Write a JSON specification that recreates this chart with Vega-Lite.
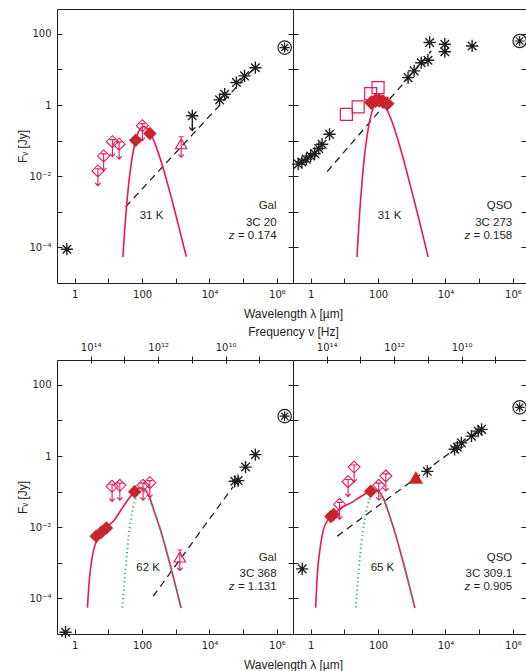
{
"$schema":"https://vega.github.io/schema/vega-lite/v6.json",
"padding":{"left":15,"top":8,"right":0,"bottom":0},
"background":"white",
"config":{
 "view":{"stroke":"#231f20","strokeWidth":1},
 "font":"Liberation Sans",
 "axis":{"grid":false,"domain":false,"labelFont":"DejaVu Sans","labelFontSize":10,"labelColor":"#231f20","titleFont":"Liberation Sans","titleFontSize":12,"titleFontWeight":"normal","titleColor":"#231f20","tickColor":"#231f20","tickWidth":1},
 "text":{"font":"Liberation Sans","fontSize":11.5,"color":"#231f20"}
},
"datasets":{
 "dummy":[{"F":1,"nu":10000000000}],
 "pts":[
  {"p":1,"k":"ast","lam":19950,"F":1.40},{"p":1,"k":"ast","lam":28180,"F":2.02},{"p":1,"k":"ast","lam":63100,"F":4.29},{"p":1,"k":"ast","lam":109600,"F":6.61},{"p":1,"k":"ast","lam":229100,"F":11.2},{"p":1,"k":"ast","lam":0.589,"F":0.0000891},
  {"p":1,"k":"astul","lam":3090,"F":0.501},
  {"p":1,"k":"ocirc","lam":1698000,"F":41.2},
  {"p":1,"k":"dul","lam":4.90,"F":0.0141},{"p":1,"k":"dul","lam":7.24,"F":0.0372},{"p":1,"k":"dul","lam":13.2,"F":0.0933},{"p":1,"k":"dul","lam":20.9,"F":0.0794},{"p":1,"k":"dul","lam":102,"F":0.263},
  {"p":1,"k":"dfill","lam":64.6,"F":0.102},{"p":1,"k":"dfill","lam":170,"F":0.158},
  {"p":1,"k":"tul","lam":1445,"F":0.0776},
  {"p":2,"k":"ast","lam":0.427,"F":0.0219},{"p":2,"k":"ast","lam":0.550,"F":0.0251},{"p":2,"k":"ast","lam":0.741,"F":0.0302},{"p":2,"k":"ast","lam":1.0,"F":0.0372},{"p":2,"k":"ast","lam":1.318,"F":0.0437},{"p":2,"k":"ast","lam":1.738,"F":0.0603},{"p":2,"k":"ast","lam":2.188,"F":0.0794},{"p":2,"k":"ast","lam":3.631,"F":0.151},
  {"p":2,"k":"ast","lam":776,"F":5.89},{"p":2,"k":"ast","lam":1175,"F":9.12},{"p":2,"k":"ast","lam":1905,"F":15.5},{"p":2,"k":"ast","lam":3020,"F":18.2},{"p":2,"k":"ast","lam":3388,"F":57.5},{"p":2,"k":"ast","lam":9550,"F":51.3},{"p":2,"k":"ast","lam":9550,"F":31.6},{"p":2,"k":"ast","lam":61660,"F":45.7},
  {"p":2,"k":"ocirc","lam":1585000,"F":63.1},
  {"p":2,"k":"sq","lam":11.5,"F":0.550},{"p":2,"k":"sq","lam":25.7,"F":0.891},{"p":2,"k":"sq","lam":60.3,"F":2.09},{"p":2,"k":"sq","lam":100,"F":3.09},
  {"p":2,"k":"dfill","lam":63.1,"F":1.175},{"p":2,"k":"dfill","lam":83.2,"F":1.318},{"p":2,"k":"dfill","lam":107,"F":1.349},{"p":2,"k":"dfill","lam":141,"F":1.259},{"p":2,"k":"dfill","lam":186,"F":1.096},
  {"p":3,"k":"ast","lam":56230,"F":0.195},{"p":3,"k":"ast","lam":70790,"F":0.204},{"p":3,"k":"ast","lam":117500,"F":0.490},{"p":3,"k":"ast","lam":229100,"F":1.096},{"p":3,"k":"ast","lam":0.537,"F":0.0000112},
  {"p":3,"k":"ocirc","lam":1698000,"F":13.2},
  {"p":3,"k":"dul","lam":12.9,"F":0.141},{"p":3,"k":"dul","lam":21.9,"F":0.151},{"p":3,"k":"dul","lam":107,"F":0.151},{"p":3,"k":"dul","lam":170,"F":0.178},
  {"p":3,"k":"dfill","lam":4.37,"F":0.00562},{"p":3,"k":"dfill","lam":6.17,"F":0.00724},{"p":3,"k":"dfill","lam":8.71,"F":0.00955},{"p":3,"k":"dfill","lam":60.3,"F":0.100},
  {"p":3,"k":"tul","lam":1318,"F":0.00138},
  {"p":4,"k":"ast","lam":2884,"F":0.372},{"p":4,"k":"ast","lam":18620,"F":1.549},{"p":4,"k":"ast","lam":22390,"F":1.778},{"p":4,"k":"ast","lam":29510,"F":2.344},{"p":4,"k":"ast","lam":58880,"F":3.631},{"p":4,"k":"ast","lam":93330,"F":5.012},{"p":4,"k":"ast","lam":117500,"F":5.623},{"p":4,"k":"ast","lam":0.562,"F":0.000676},
  {"p":4,"k":"ocirc","lam":1585000,"F":23.4},
  {"p":4,"k":"dul","lam":19.5,"F":0.490},{"p":4,"k":"dul","lam":12.9,"F":0.191},{"p":4,"k":"dul","lam":7.24,"F":0.0437},{"p":4,"k":"dul","lam":170,"F":0.275},{"p":4,"k":"dul","lam":105,"F":0.151},
  {"p":4,"k":"dfill","lam":3.98,"F":0.0200},{"p":4,"k":"dfill","lam":4.79,"F":0.0229},{"p":4,"k":"dfill","lam":60.3,"F":0.102},
  {"p":4,"k":"tri","lam":1318,"F":0.251}
 ],
 "dash":[
  {"p":1,"lam":32.4,"F":0.00138},{"p":1,"lam":229100,"F":12.0},
  {"p":2,"lam":3.09,"F":0.0135},{"p":2,"lam":3802,"F":33.1},
  {"p":3,"lam":214,"F":0.000115},{"p":3,"lam":50120,"F":0.138},
  {"p":4,"lam":6.17,"F":0.00562},{"p":4,"lam":117500,"F":5.62}
 ],
 "curves":[
  {"p":1,"c":"tot","lam":27,"F":0.0000537},{"p":1,"c":"tot","lam":30,"F":0.000245},{"p":1,"c":"tot","lam":33,"F":0.000813},{"p":1,"c":"tot","lam":35,"F":0.00158},{"p":1,"c":"tot","lam":40,"F":0.00589},{"p":1,"c":"tot","lam":45,"F":0.0151},{"p":1,"c":"tot","lam":50,"F":0.0302},{"p":1,"c":"tot","lam":60,"F":0.0776},{"p":1,"c":"tot","lam":70,"F":0.135},{"p":1,"c":"tot","lam":80,"F":0.186},{"p":1,"c":"tot","lam":100,"F":0.240},{"p":1,"c":"tot","lam":115,"F":0.251},{"p":1,"c":"tot","lam":130,"F":0.234},{"p":1,"c":"tot","lam":170,"F":0.174},{"p":1,"c":"tot","lam":250,"F":0.0759},{"p":1,"c":"tot","lam":400,"F":0.0200},{"p":1,"c":"tot","lam":700,"F":0.00302},{"p":1,"c":"tot","lam":1200,"F":0.000417},{"p":1,"c":"tot","lam":2000,"F":0.0000603},{"p":1,"c":"tot","lam":2050,"F":0.0000550},
  {"p":2,"c":"tot","lam":23.7,"F":0.0000537},{"p":2,"c":"tot","lam":25,"F":0.000132},{"p":2,"c":"tot","lam":27,"F":0.000447},{"p":2,"c":"tot","lam":30,"F":0.00191},{"p":2,"c":"tot","lam":35,"F":0.0115},{"p":2,"c":"tot","lam":40,"F":0.0398},{"p":2,"c":"tot","lam":45,"F":0.0977},{"p":2,"c":"tot","lam":50,"F":0.191},{"p":2,"c":"tot","lam":60,"F":0.457},{"p":2,"c":"tot","lam":70,"F":0.759},{"p":2,"c":"tot","lam":80,"F":1.023},{"p":2,"c":"tot","lam":100,"F":1.288},{"p":2,"c":"tot","lam":130,"F":1.202},{"p":2,"c":"tot","lam":170,"F":0.851},{"p":2,"c":"tot","lam":250,"F":0.372},{"p":2,"c":"tot","lam":400,"F":0.0955},{"p":2,"c":"tot","lam":700,"F":0.0141},{"p":2,"c":"tot","lam":1200,"F":0.00195},{"p":2,"c":"tot","lam":2000,"F":0.000282},{"p":2,"c":"tot","lam":3050,"F":0.0000537},
  {"p":3,"c":"bb","lam":26,"F":0.0000550},{"p":3,"c":"bb","lam":30,"F":0.000282},{"p":3,"c":"bb","lam":34,"F":0.00112},{"p":3,"c":"bb","lam":40,"F":0.00562},{"p":3,"c":"bb","lam":47,"F":0.0178},{"p":3,"c":"bb","lam":55,"F":0.0380},{"p":3,"c":"bb","lam":65,"F":0.0661},{"p":3,"c":"bb","lam":80,"F":0.0891},{"p":3,"c":"bb","lam":100,"F":0.100},{"p":3,"c":"bb","lam":120,"F":0.0933},{"p":3,"c":"bb","lam":150,"F":0.0692},{"p":3,"c":"bb","lam":220,"F":0.0316},{"p":3,"c":"bb","lam":350,"F":0.00851},{"p":3,"c":"bb","lam":600,"F":0.00138},{"p":3,"c":"bb","lam":1000,"F":0.000214},{"p":3,"c":"bb","lam":1440,"F":0.0000537},
  {"p":3,"c":"tot","lam":2.40,"F":0.0000550},{"p":3,"c":"tot","lam":2.61,"F":0.000200},{"p":3,"c":"tot","lam":2.99,"F":0.000724},{"p":3,"c":"tot","lam":3.51,"F":0.00191},{"p":3,"c":"tot","lam":4.41,"F":0.00407},{"p":3,"c":"tot","lam":6.19,"F":0.00692},{"p":3,"c":"tot","lam":15.4,"F":0.0166},{"p":3,"c":"tot","lam":30.5,"F":0.0437},{"p":3,"c":"tot","lam":60.3,"F":0.100},{"p":3,"c":"tot","lam":85,"F":0.129},{"p":3,"c":"tot","lam":110,"F":0.123},{"p":3,"c":"tot","lam":135,"F":0.102},{"p":3,"c":"tot","lam":170,"F":0.0661},{"p":3,"c":"tot","lam":220,"F":0.0316},{"p":3,"c":"tot","lam":350,"F":0.00851},{"p":3,"c":"tot","lam":600,"F":0.00138},{"p":3,"c":"tot","lam":1000,"F":0.000214},{"p":3,"c":"tot","lam":1440,"F":0.0000537},
  {"p":4,"c":"bb","lam":21.9,"F":0.0000550},{"p":4,"c":"bb","lam":24,"F":0.000182},{"p":4,"c":"bb","lam":27,"F":0.000708},{"p":4,"c":"bb","lam":32,"F":0.00347},{"p":4,"c":"bb","lam":40,"F":0.0158},{"p":4,"c":"bb","lam":50,"F":0.0437},{"p":4,"c":"bb","lam":65,"F":0.0813},{"p":4,"c":"bb","lam":85,"F":0.100},{"p":4,"c":"bb","lam":110,"F":0.0851},{"p":4,"c":"bb","lam":150,"F":0.0525},{"p":4,"c":"bb","lam":220,"F":0.0209},{"p":4,"c":"bb","lam":350,"F":0.00513},{"p":4,"c":"bb","lam":600,"F":0.000794},{"p":4,"c":"bb","lam":1000,"F":0.000120},{"p":4,"c":"bb","lam":1230,"F":0.0000537},
  {"p":4,"c":"tot","lam":1.41,"F":0.0000550},{"p":4,"c":"tot","lam":1.58,"F":0.000468},{"p":4,"c":"tot","lam":1.86,"F":0.00214},{"p":4,"c":"tot","lam":2.34,"F":0.00776},{"p":4,"c":"tot","lam":3.31,"F":0.0166},{"p":4,"c":"tot","lam":4.57,"F":0.0219},{"p":4,"c":"tot","lam":8.13,"F":0.0355},{"p":4,"c":"tot","lam":16.2,"F":0.0490},{"p":4,"c":"tot","lam":31.6,"F":0.0741},{"p":4,"c":"tot","lam":60.3,"F":0.102},{"p":4,"c":"tot","lam":89,"F":0.107},{"p":4,"c":"tot","lam":115,"F":0.0933},{"p":4,"c":"tot","lam":141,"F":0.0676},{"p":4,"c":"tot","lam":220,"F":0.0209},{"p":4,"c":"tot","lam":350,"F":0.00513},{"p":4,"c":"tot","lam":600,"F":0.000794},{"p":4,"c":"tot","lam":1000,"F":0.000120},{"p":4,"c":"tot","lam":1230,"F":0.0000537}
 ],
 "txt":[
  {"p":1,"k":"c","t":"31 K","lam":190.5,"F":0.000776},{"p":1,"k":"r","t":"Gal","lam":977000,"F":0.00148},{"p":1,"k":"r","t":"3C 20","lam":977000,"F":0.000490},{"p":1,"k":"r","t":"= 0.174","lam":977000,"F":0.000214},{"p":1,"k":"z","t":"z","lam":977000,"F":0.000214},
  {"p":2,"k":"c","t":"31 K","lam":218.8,"F":0.000776},{"p":2,"k":"r","t":"QSO","lam":955000,"F":0.00148},{"p":2,"k":"r","t":"3C 273","lam":955000,"F":0.000479},{"p":2,"k":"r","t":"= 0.158","lam":955000,"F":0.000209},{"p":2,"k":"z","t":"z","lam":955000,"F":0.000209},
  {"p":3,"k":"c","t":"62 K","lam":151,"F":0.000724},{"p":3,"k":"r","t":"Gal","lam":977000,"F":0.00138},{"p":3,"k":"r","t":"3C 368","lam":977000,"F":0.000490},{"p":3,"k":"r","t":"= 1.131","lam":977000,"F":0.000214},{"p":3,"k":"z","t":"z","lam":977000,"F":0.000214},
  {"p":4,"k":"c","t":"65 K","lam":135,"F":0.000724},{"p":4,"k":"r","t":"QSO","lam":955000,"F":0.00138},{"p":4,"k":"r","t":"3C 309.1","lam":955000,"F":0.000490},{"p":4,"k":"r","t":"= 0.905","lam":955000,"F":0.000214},{"p":4,"k":"z","t":"z","lam":955000,"F":0.000214}
 ]
},
"columns":2,
"spacing":{"row":77,"column":0},
"bounds":"flush",
"resolve":{"scale":{"x":"independent","y":"independent"}},
"concat":[
 {
  "width":236,"height":274,
  "encoding":{
   "x":{"field":"lam","type":"quantitative","scale":{"type":"log","domain":[0.2998,2998000],"nice":false},
        "axis":{"orient":"bottom","values":[1,10,100,1000,10000,100000,1000000],"offset":-5,"tickSize":5,"labelPadding":6,"labelOverlap":false,"labelFlush":false,"labelExpr":"round(log(datum.value)/LN10)==0?'1':round(log(datum.value)/LN10)==2?'100':round(log(datum.value)/LN10)==4?'10⁴':round(log(datum.value)/LN10)==6?'10⁶':''","title":"Wavelength λ [µm]","titleX":236,"titleY":35,"titleAlign":"center","titleBaseline":"middle","titleAngle":0}},
   "y":{"field":"F","type":"quantitative","scale":{"type":"log","domain":[0.00001,500],"nice":false},
        "axis":{"orient":"left","values":[0.0001,0.001,0.01,0.1,1,10,100],"offset":-5,"tickSize":5,"labelPadding":6,"labelOverlap":false,"labelFlush":false,"labelExpr":"round(log(datum.value)/LN10)==2?'100':round(log(datum.value)/LN10)==0?'1':round(log(datum.value)/LN10)==-2?'10⁻²':round(log(datum.value)/LN10)==-4?'10⁻⁴':''","title":"Fᵥ [Jy]","titleX":-40,"titleY":137,"titleAngle":-90,"titleAlign":"center","titleBaseline":"middle"}}
  },
  "layer":[
   {"data":{"name":"dash"},"transform":[{"filter":"datum.p==1"}],"mark":{"type":"line","stroke":"#231f20","strokeWidth":1.3,"strokeDash":[7,5]}},
   {"data":{"name":"curves"},"transform":[{"filter":"datum.p==1&&datum.c=='tot'"}],"mark":{"type":"line","interpolate":"monotone","stroke":"#e5185c","strokeWidth":1.6}},
   {"data":{"name":"pts"},"transform":[{"filter":"datum.p==1&&datum.k=='dul'"}],"mark":{"type":"point","shape":"M0,-1L1,0L0,1L-1,0ZM-0.45,-0.35L0.45,-0.35M0,-0.35L0,2.5M-0.45,2L0,2.5L0.45,2","size":144,"filled":false,"stroke":"#e5185c","strokeWidth":1.1,"opacity":1}},
   {"data":{"name":"pts"},"transform":[{"filter":"datum.p==1&&datum.k=='tul'"}],"mark":{"type":"point","shape":"M0,-0.95L0.95,0.7L-0.95,0.7ZM-0.4,-1.3L0.4,-1.3M0,-1.3L0,2.1M-0.45,1.65L0,2.1L0.45,1.65","size":144,"filled":false,"stroke":"#e5185c","strokeWidth":1.1,"opacity":1}},
   {"data":{"name":"pts"},"transform":[{"filter":"datum.p==1&&datum.k=='dfill'"}],"mark":{"type":"point","shape":"diamond","size":170,"filled":true,"fill":"#c8242d","stroke":"#c8242d","strokeWidth":0.5,"opacity":1}},
   {"data":{"name":"pts"},"transform":[{"filter":"datum.p==1&&datum.k=='ast'"}],"mark":{"type":"point","shape":"M-1,0L1,0M0,-1L0,1M-0.7,-0.7L0.7,0.7M-0.7,0.7L0.7,-0.7","size":150,"filled":false,"stroke":"#231f20","strokeWidth":1.4,"opacity":1}},
   {"data":{"name":"pts"},"transform":[{"filter":"datum.p==1&&datum.k=='astul'"}],"mark":{"type":"point","shape":"M-1,0L1,0M0,-1L0,1M-0.7,-0.7L0.7,0.7M-0.7,0.7L0.7,-0.7M0,0L0,2.4M-0.5,1.9L0,2.4L0.5,1.9","size":150,"filled":false,"stroke":"#231f20","strokeWidth":1.4,"opacity":1}},
   {"data":{"name":"pts"},"transform":[{"filter":"datum.p==1&&datum.k=='ocirc'"}],"mark":{"type":"point","shape":"M1,0A1,1,0,1,1,-1,0A1,1,0,1,1,1,0ZM-0.75,0L0.75,0M0,-0.75L0,0.75M-0.53,-0.53L0.53,0.53M-0.53,0.53L0.53,-0.53","size":180,"filled":false,"stroke":"#231f20","strokeWidth":1.2,"opacity":1}},
   {"data":{"name":"txt"},"transform":[{"filter":"datum.p==1&&datum.k=='c'"}],"mark":{"type":"text","align":"center","baseline":"middle","fontSize":11.5,"color":"#231f20"},"encoding":{"text":{"field":"t"}}},
   {"data":{"name":"txt"},"transform":[{"filter":"datum.p==1&&datum.k=='r'"}],"mark":{"type":"text","align":"right","baseline":"middle","fontSize":11.5,"color":"#231f20"},"encoding":{"text":{"field":"t"}}},
   {"data":{"name":"txt"},"transform":[{"filter":"datum.p==1&&datum.k=='z'"}],"mark":{"type":"text","align":"right","baseline":"middle","fontSize":11.5,"fontStyle":"italic","dx":-42,"color":"#231f20"},"encoding":{"text":{"field":"t"}}}
  ]
 },
 {
  "width":233,"height":274,
  "resolve":{"scale":{"y":"independent"}},
  "layer":[
   {
    "encoding":{
     "x":{"field":"lam","type":"quantitative","scale":{"type":"log","domain":[0.2998,2442700],"nice":false},
          "axis":{"orient":"bottom","values":[1,10,100,1000,10000,100000,1000000],"offset":-5,"tickSize":5,"labelPadding":6,"labelOverlap":false,"labelFlush":false,"labelExpr":"round(log(datum.value)/LN10)==0?'1':round(log(datum.value)/LN10)==2?'100':round(log(datum.value)/LN10)==4?'10⁴':round(log(datum.value)/LN10)==6?'10⁶':''","title":null}},
     "y":{"field":"F","type":"quantitative","scale":{"type":"log","domain":[0.00001,500],"nice":false},
          "axis":{"orient":"left","values":[0.0001,0.001,0.01,0.1,1,10,100],"offset":-5,"tickSize":10,"labels":false,"title":null}}
    },
    "layer":[
     {"data":{"name":"dash"},"transform":[{"filter":"datum.p==2"}],"mark":{"type":"line","stroke":"#231f20","strokeWidth":1.3,"strokeDash":[7,5]}},
     {"data":{"name":"curves"},"transform":[{"filter":"datum.p==2&&datum.c=='tot'"}],"mark":{"type":"line","interpolate":"monotone","stroke":"#e5185c","strokeWidth":1.6}},
     {"data":{"name":"pts"},"transform":[{"filter":"datum.p==2&&datum.k=='dfill'"}],"mark":{"type":"point","shape":"diamond","size":200,"filled":true,"fill":"#c8242d","stroke":"#c8242d","strokeWidth":0.5,"opacity":1}},
     {"data":{"name":"pts"},"transform":[{"filter":"datum.p==2&&datum.k=='sq'"}],"mark":{"type":"point","shape":"square","size":144,"filled":false,"stroke":"#e5185c","strokeWidth":1.2,"opacity":1}},
     {"data":{"name":"pts"},"transform":[{"filter":"datum.p==2&&datum.k=='ast'"}],"mark":{"type":"point","shape":"M-1,0L1,0M0,-1L0,1M-0.7,-0.7L0.7,0.7M-0.7,0.7L0.7,-0.7","size":150,"filled":false,"stroke":"#231f20","strokeWidth":1.4,"opacity":1}},
     {"data":{"name":"pts"},"transform":[{"filter":"datum.p==2&&datum.k=='ocirc'"}],"mark":{"type":"point","shape":"M1,0A1,1,0,1,1,-1,0A1,1,0,1,1,1,0ZM-0.75,0L0.75,0M0,-0.75L0,0.75M-0.53,-0.53L0.53,0.53M-0.53,0.53L0.53,-0.53","size":180,"filled":false,"stroke":"#231f20","strokeWidth":1.2,"opacity":1}},
     {"data":{"name":"txt"},"transform":[{"filter":"datum.p==2&&datum.k=='c'"}],"mark":{"type":"text","align":"center","baseline":"middle","fontSize":11.5,"color":"#231f20"},"encoding":{"text":{"field":"t"}}},
     {"data":{"name":"txt"},"transform":[{"filter":"datum.p==2&&datum.k=='r'"}],"mark":{"type":"text","align":"right","baseline":"middle","fontSize":11.5,"color":"#231f20"},"encoding":{"text":{"field":"t"}}},
     {"data":{"name":"txt"},"transform":[{"filter":"datum.p==2&&datum.k=='z'"}],"mark":{"type":"text","align":"right","baseline":"middle","fontSize":11.5,"fontStyle":"italic","dx":-42,"color":"#231f20"},"encoding":{"text":{"field":"t"}}}
    ]
   },
   {"data":{"name":"dummy"},"mark":{"type":"point","opacity":0},
    "encoding":{"y":{"field":"F","type":"quantitative","scale":{"type":"log","domain":[0.00001,500],"nice":false},
       "axis":{"orient":"right","values":[0.0001,0.001,0.01,0.1,1,10,100],"offset":-5,"tickSize":5,"labels":false,"title":null}}}}
  ]
 },
 {
  "width":236,"height":274,
  "resolve":{"scale":{"x":"independent"}},
  "layer":[
   {
    "encoding":{
     "x":{"field":"lam","type":"quantitative","scale":{"type":"log","domain":[0.2998,2998000],"nice":false},
          "axis":{"orient":"bottom","values":[1,10,100,1000,10000,100000,1000000],"offset":-5,"tickSize":5,"labelPadding":6,"labelOverlap":false,"labelFlush":false,"labelExpr":"round(log(datum.value)/LN10)==0?'1':round(log(datum.value)/LN10)==2?'100':round(log(datum.value)/LN10)==4?'10⁴':round(log(datum.value)/LN10)==6?'10⁶':''","title":"Wavelength λ [µm]","titleX":236,"titleY":35,"titleAlign":"center","titleBaseline":"middle","titleAngle":0}},
     "y":{"field":"F","type":"quantitative","scale":{"type":"log","domain":[0.00001,500],"nice":false},
          "axis":{"orient":"left","values":[0.0001,0.001,0.01,0.1,1,10,100],"offset":-5,"tickSize":5,"labelPadding":6,"labelOverlap":false,"labelFlush":false,"labelExpr":"round(log(datum.value)/LN10)==2?'100':round(log(datum.value)/LN10)==0?'1':round(log(datum.value)/LN10)==-2?'10⁻²':round(log(datum.value)/LN10)==-4?'10⁻⁴':''","title":"Fᵥ [Jy]","titleX":-40,"titleY":137,"titleAngle":-90,"titleAlign":"center","titleBaseline":"middle"}}
    },
    "layer":[
     {"data":{"name":"dash"},"transform":[{"filter":"datum.p==3"}],"mark":{"type":"line","stroke":"#231f20","strokeWidth":1.3,"strokeDash":[7,5]}},
     {"data":{"name":"curves"},"transform":[{"filter":"datum.p==3&&datum.c=='tot'"}],"mark":{"type":"line","interpolate":"monotone","stroke":"#e5185c","strokeWidth":1.6}},
     {"data":{"name":"curves"},"transform":[{"filter":"datum.p==3&&datum.c=='bb'"}],"mark":{"type":"line","interpolate":"monotone","stroke":"#3db54a","strokeWidth":2,"strokeDash":[1.2,3]}},
     {"data":{"name":"pts"},"transform":[{"filter":"datum.p==3&&datum.k=='dul'"}],"mark":{"type":"point","shape":"M0,-1L1,0L0,1L-1,0ZM-0.45,-0.35L0.45,-0.35M0,-0.35L0,2.5M-0.45,2L0,2.5L0.45,2","size":144,"filled":false,"stroke":"#e5185c","strokeWidth":1.1,"opacity":1}},
     {"data":{"name":"pts"},"transform":[{"filter":"datum.p==3&&datum.k=='tul'"}],"mark":{"type":"point","shape":"M0,-0.95L0.95,0.7L-0.95,0.7ZM-0.4,-1.3L0.4,-1.3M0,-1.3L0,2.1M-0.45,1.65L0,2.1L0.45,1.65","size":144,"filled":false,"stroke":"#e5185c","strokeWidth":1.1,"opacity":1}},
     {"data":{"name":"pts"},"transform":[{"filter":"datum.p==3&&datum.k=='dfill'"}],"mark":{"type":"point","shape":"diamond","size":170,"filled":true,"fill":"#c8242d","stroke":"#c8242d","strokeWidth":0.5,"opacity":1}},
     {"data":{"name":"pts"},"transform":[{"filter":"datum.p==3&&datum.k=='ast'"}],"mark":{"type":"point","shape":"M-1,0L1,0M0,-1L0,1M-0.7,-0.7L0.7,0.7M-0.7,0.7L0.7,-0.7","size":150,"filled":false,"stroke":"#231f20","strokeWidth":1.4,"opacity":1}},
     {"data":{"name":"pts"},"transform":[{"filter":"datum.p==3&&datum.k=='ocirc'"}],"mark":{"type":"point","shape":"M1,0A1,1,0,1,1,-1,0A1,1,0,1,1,1,0ZM-0.75,0L0.75,0M0,-0.75L0,0.75M-0.53,-0.53L0.53,0.53M-0.53,0.53L0.53,-0.53","size":180,"filled":false,"stroke":"#231f20","strokeWidth":1.2,"opacity":1}},
     {"data":{"name":"txt"},"transform":[{"filter":"datum.p==3&&datum.k=='c'"}],"mark":{"type":"text","align":"center","baseline":"middle","fontSize":11.5,"color":"#231f20"},"encoding":{"text":{"field":"t"}}},
     {"data":{"name":"txt"},"transform":[{"filter":"datum.p==3&&datum.k=='r'"}],"mark":{"type":"text","align":"right","baseline":"middle","fontSize":11.5,"color":"#231f20"},"encoding":{"text":{"field":"t"}}},
     {"data":{"name":"txt"},"transform":[{"filter":"datum.p==3&&datum.k=='z'"}],"mark":{"type":"text","align":"right","baseline":"middle","fontSize":11.5,"fontStyle":"italic","dx":-42,"color":"#231f20"},"encoding":{"text":{"field":"t"}}}
    ]
   },
   {"data":{"name":"dummy"},"mark":{"type":"point","opacity":0},
    "encoding":{"x":{"field":"nu","type":"quantitative","scale":{"type":"log","domain":[100000000,1000000000000000],"reverse":true,"nice":false},
       "axis":{"orient":"top","values":[1000000000,10000000000,100000000000,1000000000000,10000000000000,100000000000000],"offset":-3,"tickSize":7,"labelPadding":4,"labelOverlap":false,"labelFlush":false,"labelExpr":"round(log(datum.value)/LN10)==14?'10¹⁴':round(log(datum.value)/LN10)==12?'10¹²':round(log(datum.value)/LN10)==10?'10¹⁰':''","title":"Frequency ν [Hz]","titleX":236,"titleY":-32,"titleAlign":"center","titleBaseline":"middle"}}}}
  ]
 },
 {
  "width":233,"height":274,
  "resolve":{"scale":{"x":"independent","y":"independent"}},
  "layer":[
   {
    "encoding":{
     "x":{"field":"lam","type":"quantitative","scale":{"type":"log","domain":[0.2998,2442700],"nice":false},
          "axis":{"orient":"bottom","values":[1,10,100,1000,10000,100000,1000000],"offset":-5,"tickSize":5,"labelPadding":6,"labelOverlap":false,"labelFlush":false,"labelExpr":"round(log(datum.value)/LN10)==0?'1':round(log(datum.value)/LN10)==2?'100':round(log(datum.value)/LN10)==4?'10⁴':round(log(datum.value)/LN10)==6?'10⁶':''","title":null}},
     "y":{"field":"F","type":"quantitative","scale":{"type":"log","domain":[0.00001,500],"nice":false},
          "axis":{"orient":"left","values":[0.0001,0.001,0.01,0.1,1,10,100],"offset":-5,"tickSize":10,"labels":false,"title":null}}
    },
    "layer":[
     {"data":{"name":"dash"},"transform":[{"filter":"datum.p==4"}],"mark":{"type":"line","stroke":"#231f20","strokeWidth":1.3,"strokeDash":[7,5]}},
     {"data":{"name":"curves"},"transform":[{"filter":"datum.p==4&&datum.c=='tot'"}],"mark":{"type":"line","interpolate":"monotone","stroke":"#e5185c","strokeWidth":1.6}},
     {"data":{"name":"curves"},"transform":[{"filter":"datum.p==4&&datum.c=='bb'"}],"mark":{"type":"line","interpolate":"monotone","stroke":"#3db54a","strokeWidth":2,"strokeDash":[1.2,3]}},
     {"data":{"name":"pts"},"transform":[{"filter":"datum.p==4&&datum.k=='dfill'"}],"mark":{"type":"point","shape":"diamond","size":170,"filled":true,"fill":"#c8242d","stroke":"#c8242d","strokeWidth":0.5,"opacity":1}},
     {"data":{"name":"pts"},"transform":[{"filter":"datum.p==4&&datum.k=='dul'"}],"mark":{"type":"point","shape":"M0,-1L1,0L0,1L-1,0ZM-0.45,-0.35L0.45,-0.35M0,-0.35L0,2.5M-0.45,2L0,2.5L0.45,2","size":144,"filled":false,"stroke":"#e5185c","strokeWidth":1.1,"opacity":1}},
     {"data":{"name":"pts"},"transform":[{"filter":"datum.p==4&&datum.k=='tri'"}],"mark":{"type":"point","shape":"triangle-up","size":190,"filled":true,"fill":"#c8242d","stroke":"#c8242d","strokeWidth":0.5,"opacity":1}},
     {"data":{"name":"pts"},"transform":[{"filter":"datum.p==4&&datum.k=='ast'"}],"mark":{"type":"point","shape":"M-1,0L1,0M0,-1L0,1M-0.7,-0.7L0.7,0.7M-0.7,0.7L0.7,-0.7","size":150,"filled":false,"stroke":"#231f20","strokeWidth":1.4,"opacity":1}},
     {"data":{"name":"pts"},"transform":[{"filter":"datum.p==4&&datum.k=='ocirc'"}],"mark":{"type":"point","shape":"M1,0A1,1,0,1,1,-1,0A1,1,0,1,1,1,0ZM-0.75,0L0.75,0M0,-0.75L0,0.75M-0.53,-0.53L0.53,0.53M-0.53,0.53L0.53,-0.53","size":180,"filled":false,"stroke":"#231f20","strokeWidth":1.2,"opacity":1}},
     {"data":{"name":"txt"},"transform":[{"filter":"datum.p==4&&datum.k=='c'"}],"mark":{"type":"text","align":"center","baseline":"middle","fontSize":11.5,"color":"#231f20"},"encoding":{"text":{"field":"t"}}},
     {"data":{"name":"txt"},"transform":[{"filter":"datum.p==4&&datum.k=='r'"}],"mark":{"type":"text","align":"right","baseline":"middle","fontSize":11.5,"color":"#231f20"},"encoding":{"text":{"field":"t"}}},
     {"data":{"name":"txt"},"transform":[{"filter":"datum.p==4&&datum.k=='z'"}],"mark":{"type":"text","align":"right","baseline":"middle","fontSize":11.5,"fontStyle":"italic","dx":-42,"color":"#231f20"},"encoding":{"text":{"field":"t"}}}
    ]
   },
   {"data":{"name":"dummy"},"mark":{"type":"point","opacity":0},
    "encoding":{
     "x":{"field":"nu","type":"quantitative","scale":{"type":"log","domain":[122730000,1000000000000000],"reverse":true,"nice":false},
       "axis":{"orient":"top","values":[1000000000,10000000000,100000000000,1000000000000,10000000000000,100000000000000],"offset":-3,"tickSize":7,"labelPadding":4,"labelOverlap":false,"labelFlush":false,"labelExpr":"round(log(datum.value)/LN10)==14?'10¹⁴':round(log(datum.value)/LN10)==12?'10¹²':round(log(datum.value)/LN10)==10?'10¹⁰':''","title":null}},
     "y":{"field":"F","type":"quantitative","scale":{"type":"log","domain":[0.00001,500],"nice":false},
       "axis":{"orient":"right","values":[0.0001,0.001,0.01,0.1,1,10,100],"offset":-5,"tickSize":5,"labels":false,"title":null}}}}
  ]
 }
]
}
